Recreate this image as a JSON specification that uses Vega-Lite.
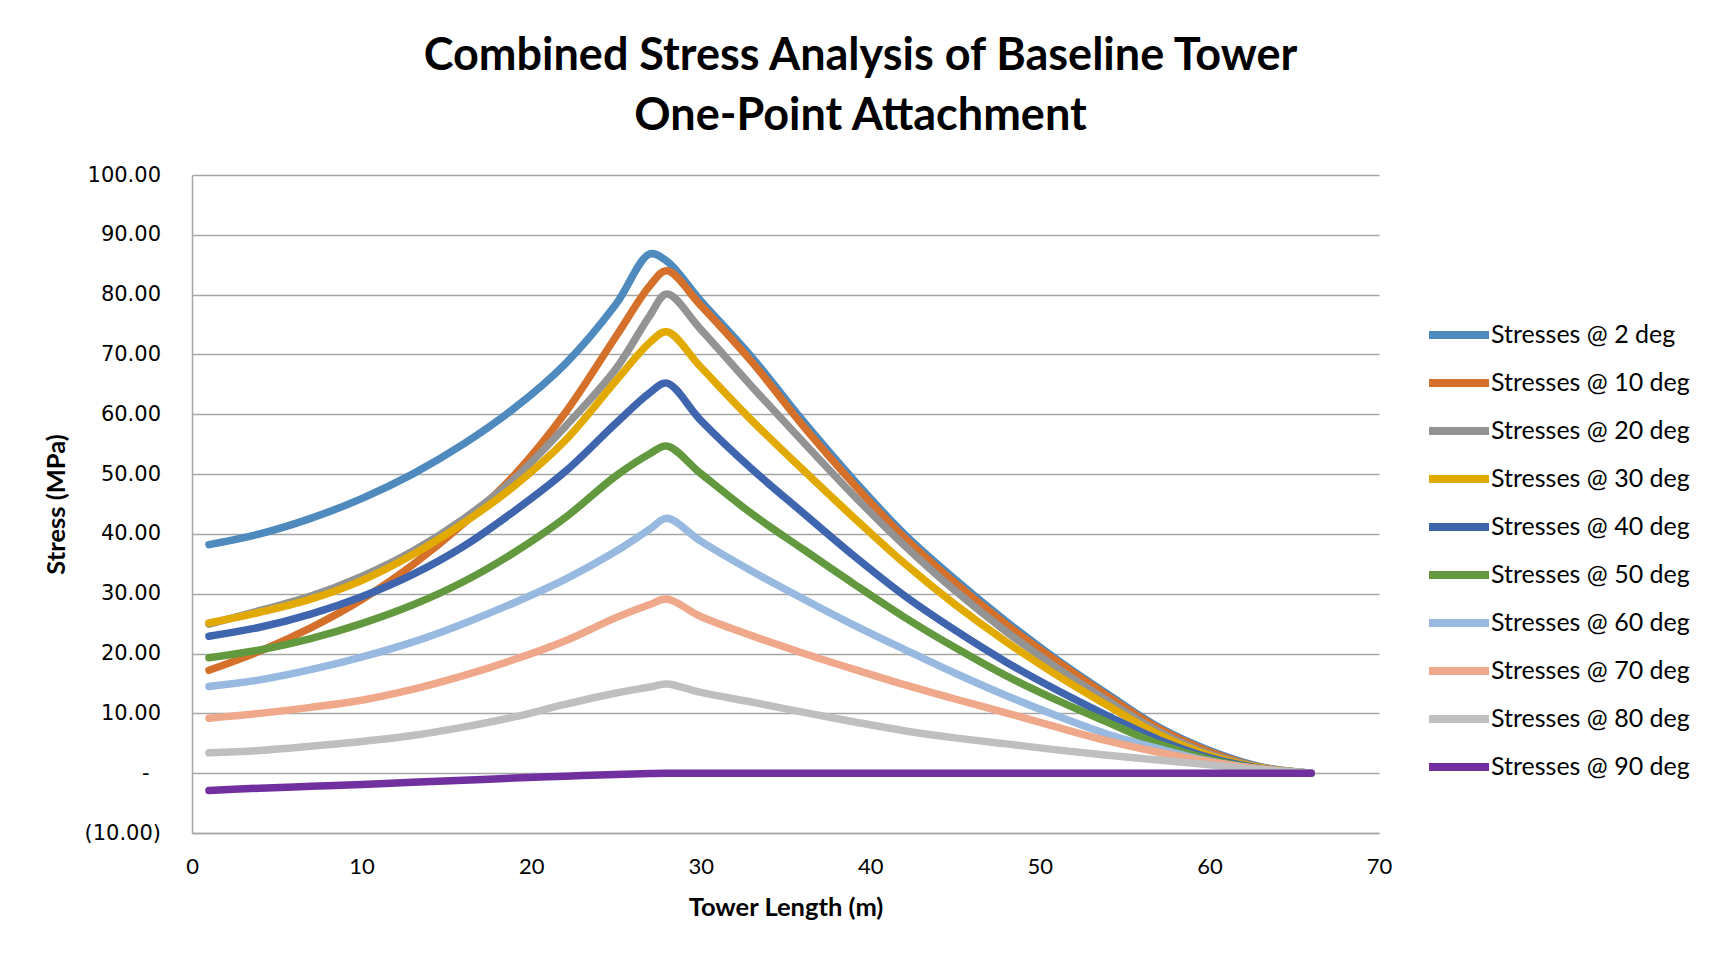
{
  "$schema": "https://vega.github.io/schema/vega-lite/v6.json",
  "autosize": {"type": "none"},
  "width": 1187,
  "height": 658,
  "padding": {"left": 192, "top": 175, "right": 334, "bottom": 121},
  "background": "white",
  "title": {
    "text": ["Combined Stress Analysis of Baseline Tower", "One-Point Attachment"],
    "font": "Lato",
    "fontWeight": "bold",
    "fontSize": 45,
    "lineHeight": 60,
    "color": "#000000",
    "anchor": "middle",
    "frame": "group",
    "dx": 75,
    "offset": 25
  },
  "data": {
    "values": [
      {"length": 1, "Stresses @ 2 deg": 38.2, "Stresses @ 10 deg": 17.2, "Stresses @ 20 deg": 24.9, "Stresses @ 30 deg": 25.1, "Stresses @ 40 deg": 22.9, "Stresses @ 50 deg": 19.3, "Stresses @ 60 deg": 14.5, "Stresses @ 70 deg": 9.2, "Stresses @ 80 deg": 3.4, "Stresses @ 90 deg": -2.9},
      {"length": 4, "Stresses @ 2 deg": 40.0, "Stresses @ 10 deg": 20.4, "Stresses @ 20 deg": 27.2, "Stresses @ 30 deg": 26.9, "Stresses @ 40 deg": 24.4, "Stresses @ 50 deg": 20.6, "Stresses @ 60 deg": 15.6, "Stresses @ 70 deg": 10.0, "Stresses @ 80 deg": 3.8, "Stresses @ 90 deg": -2.5},
      {"length": 7, "Stresses @ 2 deg": 42.6, "Stresses @ 10 deg": 24.3, "Stresses @ 20 deg": 29.6, "Stresses @ 30 deg": 29.1, "Stresses @ 40 deg": 26.6, "Stresses @ 50 deg": 22.5, "Stresses @ 60 deg": 17.3, "Stresses @ 70 deg": 11.0, "Stresses @ 80 deg": 4.5, "Stresses @ 90 deg": -2.2},
      {"length": 10, "Stresses @ 2 deg": 45.9, "Stresses @ 10 deg": 29.0, "Stresses @ 20 deg": 32.9, "Stresses @ 30 deg": 32.2, "Stresses @ 40 deg": 29.5, "Stresses @ 50 deg": 25.0, "Stresses @ 60 deg": 19.4, "Stresses @ 70 deg": 12.2, "Stresses @ 80 deg": 5.3, "Stresses @ 90 deg": -1.9},
      {"length": 13, "Stresses @ 2 deg": 50.0, "Stresses @ 10 deg": 34.8, "Stresses @ 20 deg": 37.1, "Stresses @ 30 deg": 36.5, "Stresses @ 40 deg": 33.2, "Stresses @ 50 deg": 28.1, "Stresses @ 60 deg": 21.9, "Stresses @ 70 deg": 14.0, "Stresses @ 80 deg": 6.3, "Stresses @ 90 deg": -1.5},
      {"length": 16, "Stresses @ 2 deg": 55.0, "Stresses @ 10 deg": 41.7, "Stresses @ 20 deg": 42.5, "Stresses @ 30 deg": 41.8, "Stresses @ 40 deg": 37.9, "Stresses @ 50 deg": 32.0, "Stresses @ 60 deg": 25.0, "Stresses @ 70 deg": 16.3, "Stresses @ 80 deg": 7.7, "Stresses @ 90 deg": -1.2},
      {"length": 19, "Stresses @ 2 deg": 61.0, "Stresses @ 10 deg": 49.8, "Stresses @ 20 deg": 49.2, "Stresses @ 30 deg": 48.0, "Stresses @ 40 deg": 43.8, "Stresses @ 50 deg": 36.9, "Stresses @ 60 deg": 28.5, "Stresses @ 70 deg": 19.0, "Stresses @ 80 deg": 9.4, "Stresses @ 90 deg": -0.8},
      {"length": 22, "Stresses @ 2 deg": 68.4, "Stresses @ 10 deg": 60.2, "Stresses @ 20 deg": 57.9, "Stresses @ 30 deg": 55.6, "Stresses @ 40 deg": 50.4, "Stresses @ 50 deg": 42.7, "Stresses @ 60 deg": 32.4, "Stresses @ 70 deg": 22.1, "Stresses @ 80 deg": 11.5, "Stresses @ 90 deg": -0.5},
      {"length": 25, "Stresses @ 2 deg": 78.4, "Stresses @ 10 deg": 73.0, "Stresses @ 20 deg": 67.6, "Stresses @ 30 deg": 65.6, "Stresses @ 40 deg": 58.5, "Stresses @ 50 deg": 49.7, "Stresses @ 60 deg": 37.1, "Stresses @ 70 deg": 26.0, "Stresses @ 80 deg": 13.4, "Stresses @ 90 deg": -0.2},
      {"length": 27, "Stresses @ 2 deg": 86.8, "Stresses @ 10 deg": 81.5, "Stresses @ 20 deg": 76.5, "Stresses @ 30 deg": 72.0, "Stresses @ 40 deg": 63.6, "Stresses @ 50 deg": 53.4, "Stresses @ 60 deg": 40.8, "Stresses @ 70 deg": 28.2, "Stresses @ 80 deg": 14.4, "Stresses @ 90 deg": -0.05},
      {"length": 28, "Stresses @ 2 deg": 85.6, "Stresses @ 10 deg": 84.0, "Stresses @ 20 deg": 80.1, "Stresses @ 30 deg": 73.8, "Stresses @ 40 deg": 65.2, "Stresses @ 50 deg": 54.7, "Stresses @ 60 deg": 42.6, "Stresses @ 70 deg": 29.1, "Stresses @ 80 deg": 14.9, "Stresses @ 90 deg": 0},
      {"length": 30, "Stresses @ 2 deg": 79.0, "Stresses @ 10 deg": 78.2, "Stresses @ 20 deg": 74.2, "Stresses @ 30 deg": 67.9, "Stresses @ 40 deg": 59.0, "Stresses @ 50 deg": 50.1, "Stresses @ 60 deg": 38.8, "Stresses @ 70 deg": 26.2, "Stresses @ 80 deg": 13.5, "Stresses @ 90 deg": 0},
      {"length": 33, "Stresses @ 2 deg": 69.6, "Stresses @ 10 deg": 68.8, "Stresses @ 20 deg": 64.7, "Stresses @ 30 deg": 59.0, "Stresses @ 40 deg": 50.9, "Stresses @ 50 deg": 43.4, "Stresses @ 60 deg": 33.8, "Stresses @ 70 deg": 23.0, "Stresses @ 80 deg": 11.9, "Stresses @ 90 deg": 0},
      {"length": 36, "Stresses @ 2 deg": 59.0, "Stresses @ 10 deg": 58.2, "Stresses @ 20 deg": 55.5, "Stresses @ 30 deg": 50.8, "Stresses @ 40 deg": 43.6, "Stresses @ 50 deg": 37.5, "Stresses @ 60 deg": 29.2, "Stresses @ 70 deg": 20.1, "Stresses @ 80 deg": 10.2, "Stresses @ 90 deg": 0},
      {"length": 39, "Stresses @ 2 deg": 49.1, "Stresses @ 10 deg": 48.4, "Stresses @ 20 deg": 46.5, "Stresses @ 30 deg": 42.8, "Stresses @ 40 deg": 36.4, "Stresses @ 50 deg": 31.7, "Stresses @ 60 deg": 24.8, "Stresses @ 70 deg": 17.4, "Stresses @ 80 deg": 8.6, "Stresses @ 90 deg": 0},
      {"length": 42, "Stresses @ 2 deg": 40.0, "Stresses @ 10 deg": 39.4, "Stresses @ 20 deg": 38.1, "Stresses @ 30 deg": 35.1, "Stresses @ 40 deg": 29.7, "Stresses @ 50 deg": 26.1, "Stresses @ 60 deg": 20.7, "Stresses @ 70 deg": 14.8, "Stresses @ 80 deg": 7.1, "Stresses @ 90 deg": 0},
      {"length": 45, "Stresses @ 2 deg": 32.4, "Stresses @ 10 deg": 31.8, "Stresses @ 20 deg": 30.5, "Stresses @ 30 deg": 28.2, "Stresses @ 40 deg": 23.9, "Stresses @ 50 deg": 21.0, "Stresses @ 60 deg": 16.7, "Stresses @ 70 deg": 12.4, "Stresses @ 80 deg": 5.9, "Stresses @ 90 deg": 0},
      {"length": 48, "Stresses @ 2 deg": 25.4, "Stresses @ 10 deg": 24.9, "Stresses @ 20 deg": 23.7, "Stresses @ 30 deg": 22.0, "Stresses @ 40 deg": 18.6, "Stresses @ 50 deg": 16.3, "Stresses @ 60 deg": 13.0, "Stresses @ 70 deg": 10.1, "Stresses @ 80 deg": 4.9, "Stresses @ 90 deg": 0},
      {"length": 51, "Stresses @ 2 deg": 19.0, "Stresses @ 10 deg": 18.7, "Stresses @ 20 deg": 17.6, "Stresses @ 30 deg": 16.4, "Stresses @ 40 deg": 13.9, "Stresses @ 50 deg": 12.2, "Stresses @ 60 deg": 9.6, "Stresses @ 70 deg": 7.7, "Stresses @ 80 deg": 3.9, "Stresses @ 90 deg": 0},
      {"length": 54, "Stresses @ 2 deg": 13.2, "Stresses @ 10 deg": 12.9, "Stresses @ 20 deg": 12.1, "Stresses @ 30 deg": 11.3, "Stresses @ 40 deg": 9.6, "Stresses @ 50 deg": 8.5, "Stresses @ 60 deg": 6.5, "Stresses @ 70 deg": 5.4, "Stresses @ 80 deg": 3.0, "Stresses @ 90 deg": 0},
      {"length": 57, "Stresses @ 2 deg": 7.7, "Stresses @ 10 deg": 7.5, "Stresses @ 20 deg": 7.0, "Stresses @ 30 deg": 6.5, "Stresses @ 40 deg": 5.6, "Stresses @ 50 deg": 4.9, "Stresses @ 60 deg": 4.1, "Stresses @ 70 deg": 3.5, "Stresses @ 80 deg": 2.2, "Stresses @ 90 deg": 0},
      {"length": 60, "Stresses @ 2 deg": 3.8, "Stresses @ 10 deg": 3.6, "Stresses @ 20 deg": 3.2, "Stresses @ 30 deg": 3.0, "Stresses @ 40 deg": 2.6, "Stresses @ 50 deg": 2.3, "Stresses @ 60 deg": 2.0, "Stresses @ 70 deg": 1.9, "Stresses @ 80 deg": 1.4, "Stresses @ 90 deg": 0},
      {"length": 63, "Stresses @ 2 deg": 1.1, "Stresses @ 10 deg": 1.0, "Stresses @ 20 deg": 1.0, "Stresses @ 30 deg": 0.9, "Stresses @ 40 deg": 0.8, "Stresses @ 50 deg": 0.7, "Stresses @ 60 deg": 0.7, "Stresses @ 70 deg": 0.7, "Stresses @ 80 deg": 0.6, "Stresses @ 90 deg": 0},
      {"length": 66, "Stresses @ 2 deg": 0, "Stresses @ 10 deg": 0, "Stresses @ 20 deg": 0, "Stresses @ 30 deg": 0, "Stresses @ 40 deg": 0, "Stresses @ 50 deg": 0, "Stresses @ 60 deg": 0, "Stresses @ 70 deg": 0, "Stresses @ 80 deg": 0, "Stresses @ 90 deg": 0}
    ]
  },
  "transform": [
    {"fold": ["Stresses @ 2 deg", "Stresses @ 10 deg", "Stresses @ 20 deg", "Stresses @ 30 deg", "Stresses @ 40 deg", "Stresses @ 50 deg", "Stresses @ 60 deg", "Stresses @ 70 deg", "Stresses @ 80 deg", "Stresses @ 90 deg"], "as": ["series", "stress"]}
  ],
  "mark": {"type": "line", "interpolate": "catmull-rom", "strokeWidth": 7.5, "strokeCap": "round", "strokeJoin": "round"},
  "encoding": {
    "x": {
      "field": "length", "type": "quantitative",
      "scale": {"domain": [0, 70], "nice": false},
      "axis": {
        "title": "Tower Length (m)",
        "values": [0, 10, 20, 30, 40, 50, 60, 70],
        "grid": false, "ticks": false, "labelFlush": false,
        "domainColor": "#A6A6A6", "domainWidth": 1.5,
        "labelFont": "Lato", "labelFontSize": 22, "labelColor": "#000000", "labelPadding": 23,
        "titleFont": "Lato", "titleFontSize": 25.5, "titleFontWeight": "bold", "titleColor": "#000000", "titlePadding": 18
      }
    },
    "y": {
      "field": "stress", "type": "quantitative",
      "scale": {"domain": [-10, 100], "nice": false, "zero": false},
      "axis": {
        "title": "Stress (MPa)",
        "values": [-10, 0, 10, 20, 30, 40, 50, 60, 70, 80, 90, 100],
        "labelExpr": "datum.value == 0 ? '-' : (datum.value < 0 ? '(' + format(-datum.value, '.2f') + ')' : format(datum.value, '.2f'))",
        "labelPadding": {"condition": {"test": "datum.value == 0", "value": 43}, "value": 31.5},
        "grid": true, "gridColor": "#A6A6A6", "gridWidth": 1.3,
        "ticks": false, "labelFlush": false,
        "domainColor": "#A6A6A6", "domainWidth": 1.5,
        "labelFont": "DejaVu Sans", "labelFontSize": 21, "labelColor": "#000000",
        "titleFont": "Lato", "titleFontSize": 25.5, "titleFontWeight": "bold", "titleColor": "#000000", "titlePadding": 14
      }
    },
    "color": {
      "field": "series", "type": "nominal",
      "scale": {
        "domain": ["Stresses @ 2 deg", "Stresses @ 10 deg", "Stresses @ 20 deg", "Stresses @ 30 deg", "Stresses @ 40 deg", "Stresses @ 50 deg", "Stresses @ 60 deg", "Stresses @ 70 deg", "Stresses @ 80 deg", "Stresses @ 90 deg"],
        "range": ["#4E8ABE", "#D5702B", "#939393", "#E2AA00", "#3E65AD", "#62993E", "#98B9E0", "#F0A88A", "#BFBFBF", "#7030A0"]
      },
      "legend": {
        "title": null,
        "orient": "none",
        "legendX": 1248,
        "legendY": 141,
        "symbolType": "M-2,0L2,0",
        "symbolSize": 900,
        "symbolStrokeWidth": 8,
        "labelFont": "Lato",
        "labelFontSize": 25,
        "labelColor": "#000000",
        "labelOffset": 13,
        "rowPadding": 13,
        "labelLimit": 400
      }
    },
    "order": {"field": "length", "type": "quantitative"}
  },
  "config": {"view": {"stroke": null}}
}
